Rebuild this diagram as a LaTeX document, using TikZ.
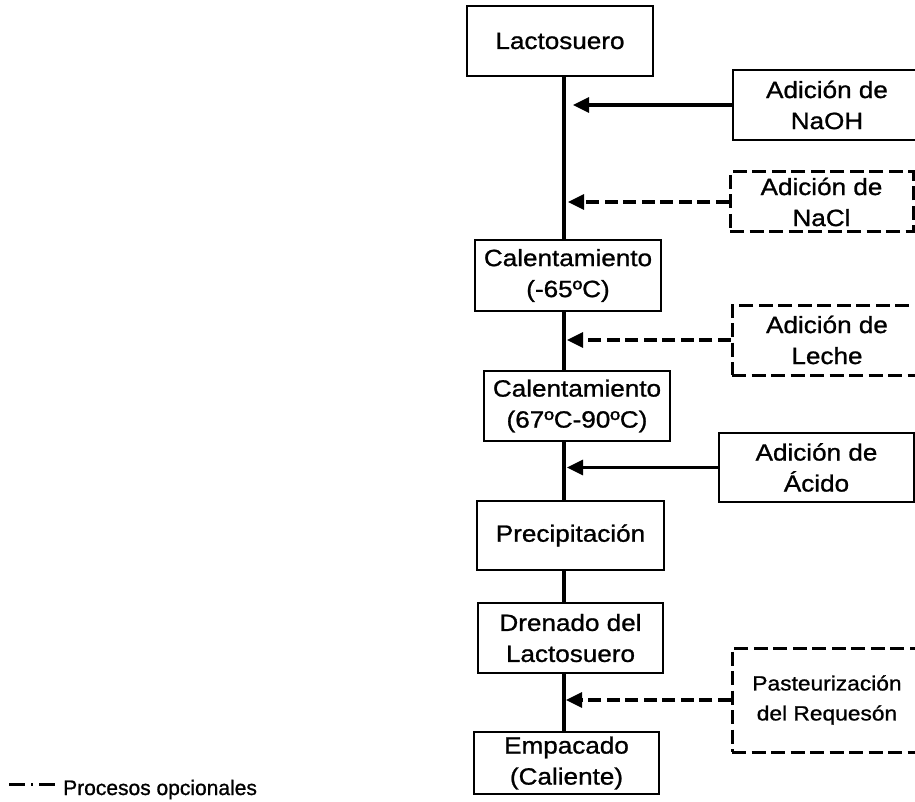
\documentclass[tikz,border=0pt]{standalone}
\usepackage{fontspec}
\setmainfont{Liberation Sans}[FakeStretch=1.11, FakeBold=1.0]
\newfontfamily\legendfont{Liberation Sans}[FakeBold=1.0]
\usetikzlibrary{arrows.meta}

\begin{document}
\begin{tikzpicture}[x=1pt,y=-1pt,
  stepbox/.style={draw, line width=1.2pt, inner sep=0pt, align=center,
    font=\fontsize{23.5}{31}\selectfont},
  addbox/.style={stepbox},
  optbox/.style={stepbox, line width=3pt, dash pattern=on 14pt off 5.5pt},
  spine/.style={line width=3.8pt},
  feed/.style={line width=3.2pt, -{Triangle[length=16pt,width=15pt]}},
  optfeed/.style={feed, dash pattern=on 13pt off 5.5pt},
]
\useasboundingbox (0,0) rectangle (915,802);
\clip (0,0) rectangle (915,802);

% main process column
\node[stepbox, minimum width=186pt, minimum height=70pt] (lacto) at (560,41) {Lactosuero};
\node[stepbox, minimum width=186pt, minimum height=71pt] (cal1) at (568,275.5) {Calentamiento\\(-65ºC)};
\node[stepbox, minimum width=186pt, minimum height=70pt] (cal2) at (577,406) {Calentamiento\\(67ºC-90ºC)};
\node[stepbox, minimum width=187pt, minimum height=69pt] (prec) at (570.5,535.5) {Precipitación};
\node[stepbox, minimum width=185pt, minimum height=70pt] (dren) at (570.5,638) {Drenado del\\Lactosuero};
\node[stepbox, minimum width=185pt, minimum height=62pt] (emp) at (566.5,763) {Empacado\\(Caliente)};

% additions entering from the right
\node[addbox, minimum width=188pt, minimum height=70pt] (naoh) at (827,105) {Adición de\\NaOH};
\node[optbox, minimum width=183pt, minimum height=60pt] (nacl) at (821.5,202) {Adición de\\NaCl};
\node[optbox, minimum width=190pt, minimum height=70pt] (leche) at (827,340) {Adición de\\Leche};
\node[addbox, minimum width=195pt, minimum height=69pt] (acido) at (816.5,467.5) {Adición de\\Ácido};
\node[optbox, minimum width=190pt, minimum height=104pt,
  font=\fontsize{20.5}{30}\selectfont] (past) at (827,700) {Pasteurización\\del Requesón};

% vertical flow line
\coordinate (sp) at (564,0);
\draw[spine] (lacto.south -| sp) -- (cal1.north -| sp);
\draw[spine] (cal1.south -| sp) -- (cal2.north -| sp);
\draw[spine] (cal2.south -| sp) -- (prec.north -| sp);
\draw[spine] (prec.south -| sp) -- (dren.north -| sp);
\draw[spine] (dren.south -| sp) -- (emp.north -| sp);

% feed arrows
\draw[feed] (naoh.west) -- ([xshift=9pt]naoh.west -| sp);
\draw[optfeed] (nacl.west) -- ([xshift=4pt]nacl.west -| sp);
\draw[optfeed] (leche.west) -- ([xshift=3pt]leche.west -| sp);
\draw[feed] (acido.west) -- ([xshift=3pt]acido.west -| sp);
\draw[optfeed] (past.west) -- ([xshift=2pt]past.west -| sp);

% legend
\node[anchor=base west, inner sep=0pt, font=\legendfont\fontsize{21}{24}\selectfont]
  (legend) at (63,795) {Procesos opcionales};
\draw[line width=3pt, dash pattern=on 16pt off 6pt on 2pt off 6pt] (9,784) -- (56,784);
\end{tikzpicture}
\end{document}
